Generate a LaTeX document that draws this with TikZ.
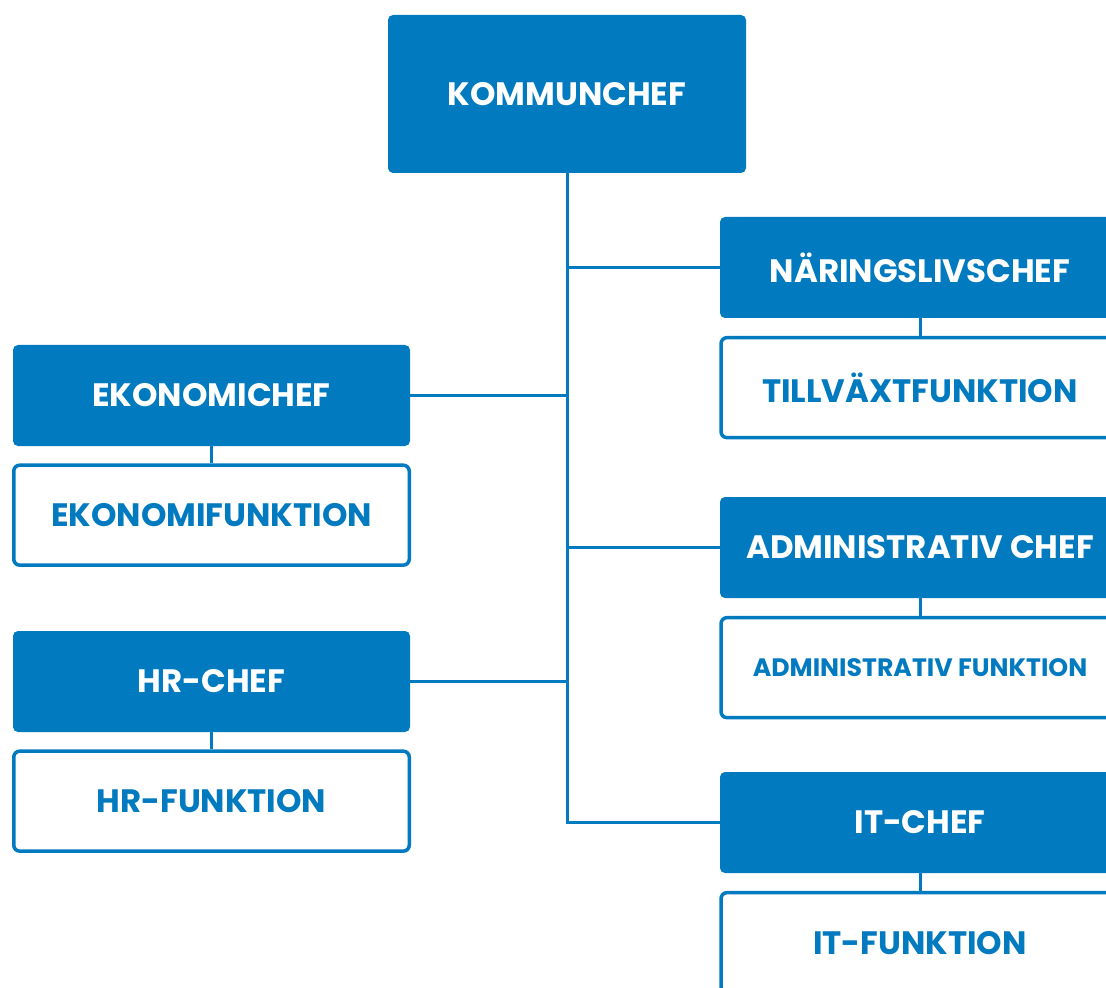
\documentclass[tikz,border=0pt]{standalone}
\usepackage{fontspec}
\setmainfont{Poppins}
\usetikzlibrary{positioning}
\definecolor{kblue}{HTML}{027AC0}

\tikzset{
	chef/.style = {fill=kblue, rounded corners=2.5pt, inner sep=0pt,
		minimum width=198.5pt, minimum height=50.5pt, text=white,
		font=\fontsize{16.2}{18}\selectfont\bfseries},
	funk/.style = {draw=kblue, line width=1.75pt, fill=white, rounded corners=3pt,
		inner sep=0pt, minimum width=197.75pt, minimum height=50pt, text=kblue,
		font=\fontsize{16.2}{18}\selectfont\bfseries},
	link/.style = {draw=kblue, line width=1.5pt}
}

\begin{document}
\begin{tikzpicture}[x=0.5pt, y=-0.5pt]
	\useasboundingbox (0,0) rectangle (1106,988);
	\clip (0,0) rectangle (1106,988);
	% top
	\node[chef, minimum width=179pt, minimum height=79pt] (kc) at (567,94) {KOMMUNCHEF};
	% right column
	\node[chef, minimum width=200pt] (nar) at (920,267.5) {NÄRINGSLIVSCHEF};
	\node[funk, minimum width=199pt] (till) [below=8.75pt of nar] {TILLVÄXTFUNKTION};
	\node[chef, minimum width=200pt] (adm) at (920,547.5) {ADMINISTRATIV CHEF};
	\node[funk, minimum width=199pt, font=\fontsize{12.6}{14}\selectfont\bfseries] (admf) [below=8.75pt of adm] {ADMINISTRATIV FUNKTION};
	\node[chef, minimum width=200pt] (it) at (920,822.5) {IT-CHEF};
	\node[funk, minimum width=199pt] (itf) [below=8.75pt of it] {IT-FUNKTION};
	% left column
	\node[chef] (ek) at (211.5,395.5) {EKONOMICHEF};
	\node[funk] (ekf) [below=8.5pt of ek] {EKONOMIFUNKTION};
	\node[chef] (hr) at (211.5,681.5) {HR-CHEF};
	\node[funk] (hrf) [below=8.5pt of hr] {HR-FUNKTION};
	% connectors
	\draw[link] (kc.south) -- (kc.south |- it.west) -- (it.west);
	\draw[link] (kc.south |- nar.west) -- (nar.west);
	\draw[link] (kc.south |- adm.west) -- (adm.west);
	\draw[link] (ek.east) -- (ek.east -| kc.south);
	\draw[link] (hr.east) -- (hr.east -| kc.south);
	\draw[link] (nar) -- (till);
	\draw[link] (adm) -- (admf);
	\draw[link] (it) -- (itf);
	\draw[link] (ek) -- (ekf);
	\draw[link] (hr) -- (hrf);
\end{tikzpicture}
\end{document}
